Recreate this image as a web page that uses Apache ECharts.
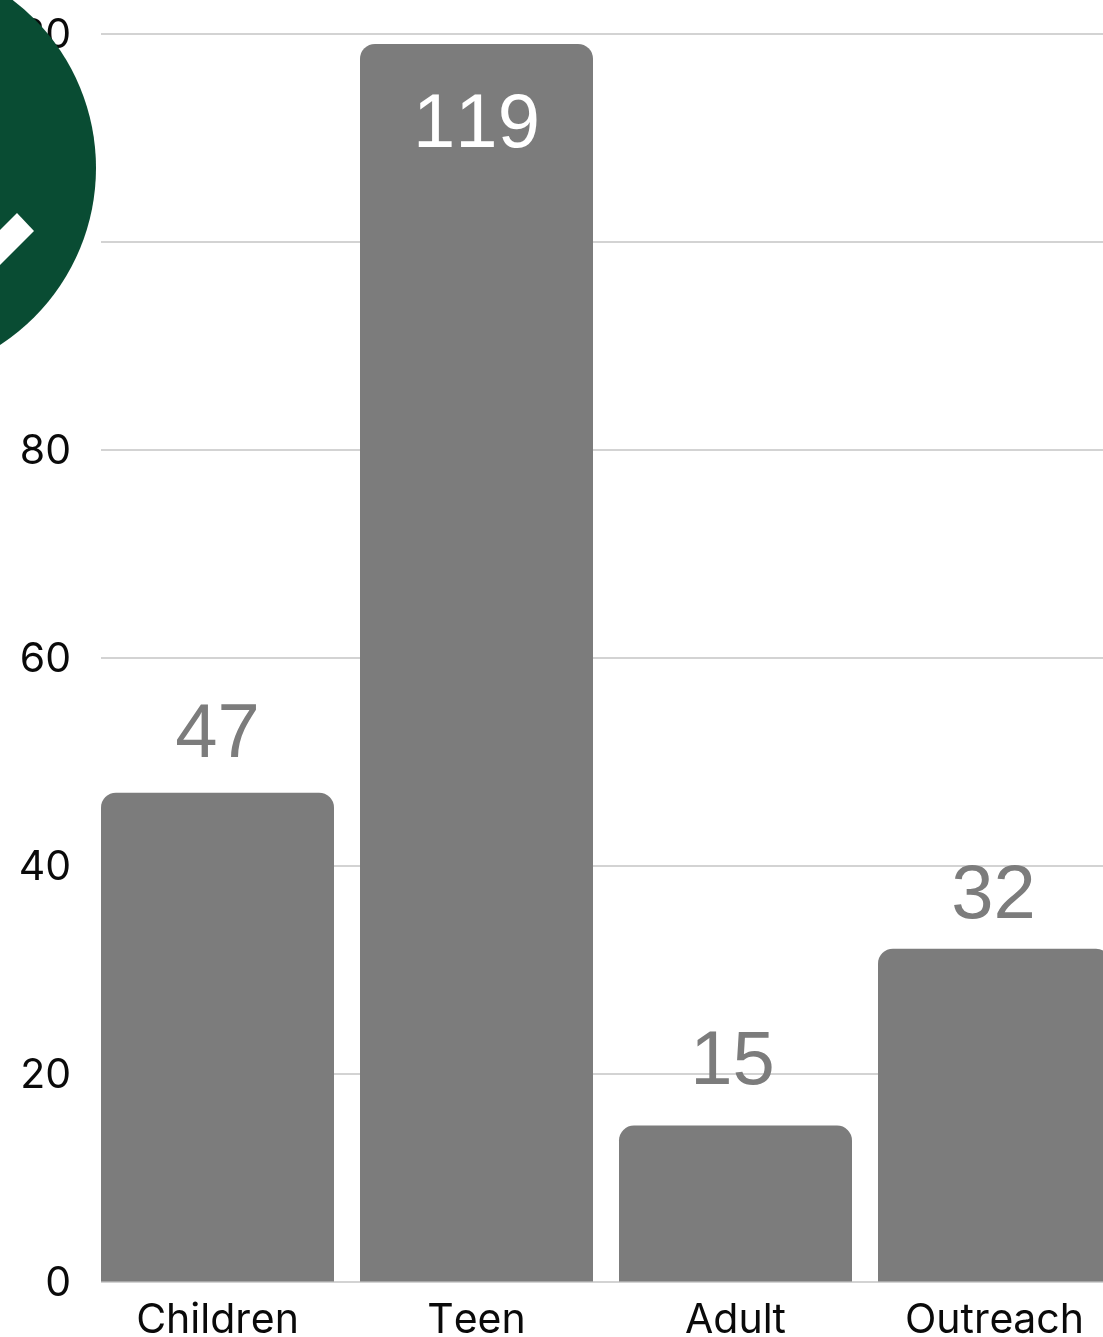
<!DOCTYPE html>
<html>
<head>
<meta charset="utf-8">
<style>html,body{margin:0;padding:0;background:#fff;overflow:hidden}#c{width:1103px;height:1337px}</style>
<script src="https://cdn.jsdelivr.net/npm/echarts@6/dist/echarts.min.js"></script>
</head>
<body>
<div id="c"></div>
<script>
const categories = ["Children", "Teen", "Adult", "Outreach"];
const values = [47, 119, 15, 32];
const insideLabelFor = ["Teen"];
const axisMin = 0, axisMax = 120, axisStep = 20;

const chart = echarts.init(document.getElementById('c'), null, {renderer: 'canvas'});
const plotTop = 33.5, plotHeight = 1248;
const labelOffsets = {Children: [0, 5], Teen: [0, 0], Adult: [-3, 0], Outreach: [-1, 10]};
const option = {
  animation: false,
  backgroundColor: '#ffffff',
  grid: [
    {left: 88, top: plotTop, width: 1036, height: plotHeight, outerBoundsMode: 'none'},
    {left: 101, top: plotTop, right: 0, height: plotHeight, outerBoundsMode: 'none'}
  ],
  xAxis: [
    {type: 'category', gridIndex: 0, data: categories, axisLine: {show: false}, axisTick: {show: false},
     axisLabel: {color: '#0a0a0a', fontFamily: 'Inter', fontSize: 41, margin: 19, interval: 0, hideOverlap: false}},
    {type: 'category', gridIndex: 1, data: categories, show: false}
  ],
  yAxis: [
    {type: 'value', gridIndex: 0, min: axisMin, max: axisMax, interval: axisStep, show: false},
    {type: 'value', gridIndex: 1, min: axisMin, max: axisMax, interval: axisStep,
     axisLine: {show: false}, axisTick: {show: false},
     axisLabel: {margin: 30, formatter: '{t|{value}}',
       rich: {t: {color: '#0a0a0a', fontFamily: 'Inter', fontSize: 41, padding: [4, 0, 0, 0]}}},
     splitLine: {show: true, lineStyle: {color: '#c4c4c4', width: 1.5}}}
  ],
  series: [
    {type: 'bar', xAxisIndex: 1, yAxisIndex: 1, data: [], silent: true},
    {type: 'bar', xAxisIndex: 0, yAxisIndex: 0, barWidth: 233, clip: false, z: 3,
     itemStyle: {color: '#7c7c7c', borderRadius: [15, 15, 0, 0]},
     data: values.map((v, i) => {
       const inside = insideLabelFor.includes(categories[i]);
       return {value: v, label: {
         show: true,
         position: inside ? 'insideTop' : 'top',
         distance: inside ? 44 : 24,
         offset: labelOffsets[categories[i]],
         color: inside ? '#ffffff' : '#7c7c7c',
         fontFamily: 'Liberation Sans',
         fontSize: 76
       }};
     })}
  ],
  graphic: [
    {type: 'circle', z: 100, shape: {cx: -115, cy: 168, r: 211}, style: {fill: '#094c33'}},
    {type: 'polygon', z: 101, shape: {points: [[17, 213], [34, 231], [-20, 285], [-37, 267]]}, style: {fill: '#ffffff'}}
  ]
};
chart.setOption(option);
// Reference digits are set without pair kerning ("119" runs wider); redraw with kerning off.
const canvasEl = document.querySelector('#c canvas');
if (canvasEl) canvasEl.getContext('2d').fontKerning = 'none';
chart.setOption(option, true);
</script>
</body>
</html>
